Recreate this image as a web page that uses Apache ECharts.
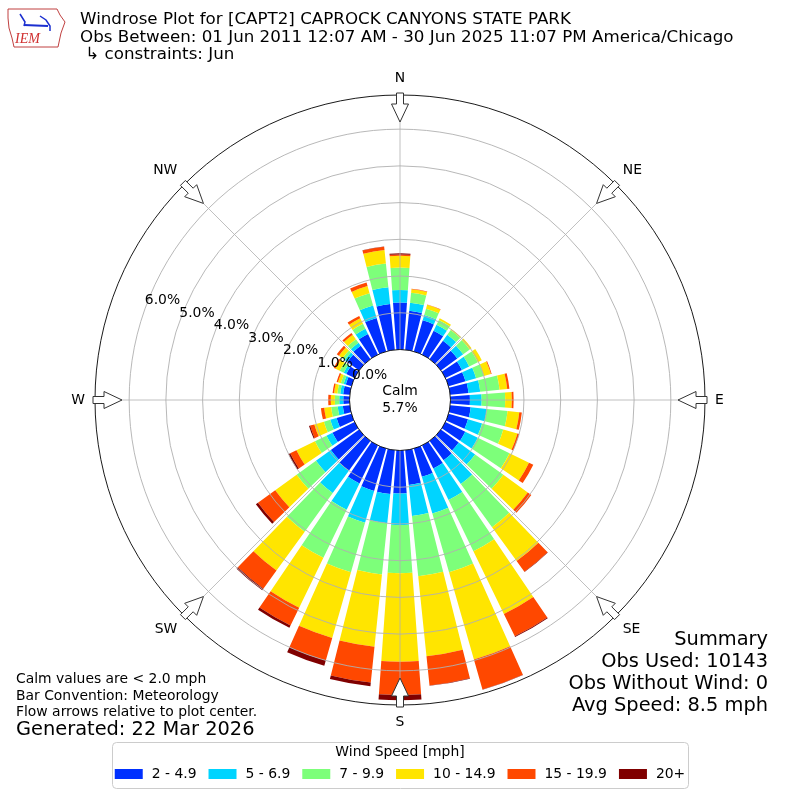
<!DOCTYPE html>
<html><head><meta charset="utf-8">
<script src="https://cdn.jsdelivr.net/npm/echarts@6/dist/echarts.min.js"></script>
<style>html,body{margin:0;padding:0;background:#fff}#c{width:800px;height:800px}</style>
</head><body><div id="c"></div>
<script>
// ---- data (percent of observations), 36 directions clockwise from North ----
const directions = ['0','10','20','30','40','50','60','70','80','90','100','110','120','130','140','150','160','170',
  '180','190','200','210','220','230','240','250','260','270','280','290','300','310','320','330','340','350'];
const speedBins = ['2 - 4.9', '5 - 6.9', '7 - 9.9', '10 - 14.9', '15 - 19.9', '20+'];
const speedColors = ['#0030ff', '#00d4ff', '#7dff7a', '#ffe500', '#ff4800', '#800000'];
const bin2to5 = [1.28,1.07,0.88,0.72,0.62,0.55,0.50,0.48,0.50,0.53,0.56,0.55,0.60,0.60,0.65,0.70,0.80,0.95,
  1.17,1.20,1.20,1.15,1.00,0.95,0.67,0.42,0.19,0.17,0.18,0.16,0.25,0.40,0.45,0.62,0.95,1.25];
const bin5to7 = [0.34,0.22,0.15,0.18,0.20,0.20,0.22,0.30,0.32,0.32,0.44,0.40,0.38,0.55,0.80,0.95,1.04,0.85,
  0.86,0.80,0.90,0.80,0.75,0.50,0.18,0.18,0.14,0.11,0.08,0.06,0.08,0.08,0.10,0.16,0.35,0.46];
const bin7to10 = [0.61,0.27,0.18,0.15,0.16,0.22,0.26,0.22,0.53,0.64,0.57,0.60,0.96,0.95,1.45,1.55,1.66,1.65,
  1.31,1.40,1.40,1.45,1.30,0.65,0.35,0.18,0.18,0.12,0.08,0.08,0.12,0.08,0.12,0.15,0.35,0.65];
const bin10to15 = [0.32,0.10,0.11,0.05,0.03,0.06,0.12,0.20,0.21,0.18,0.32,0.40,0.59,0.82,1.14,1.90,2.47,2.19,
  2.41,1.98,1.86,1.51,1.31,0.72,0.56,0.27,0.19,0.11,0.09,0.08,0.13,0.12,0.15,0.17,0.20,0.37];
const bin15to20 = [0.04,0.01,0.01,0,0,0,0,0.02,0.06,0.05,0.07,0.05,0.13,0.12,0.36,0.68,0.85,0.80,
  0.91,0.98,0.64,0.54,0.61,0.58,0.19,0.12,0.09,0.07,0.04,0.04,0.05,0.07,0.06,0.07,0.10,0.09];
const bin20plus = [0.03,0,0,0,0,0,0,0,0,0,0,0,0,0,0.01,0.02,0.01,0.01,
  0.14,0.10,0.15,0.07,0.05,0.07,0.05,0.03,0,0,0,0,0,0,0,0,0,0.01];
const compassLabels = ['N','NE','E','SE','S','SW','W','NW'];
const radialMax = 6.93;
const calmPct = '5.7%';

// ---- layout ----
const CX = 400, CY = 400, R0 = 50.5, R1 = 305;
const UNIT = (R1 - R0) / radialMax;
const FONT = 'DejaVu Sans';
const F10 = 13.9, F12 = 16.7, F14 = 19.4;
const chart = echarts.init(document.getElementById('c'), null, {renderer: 'canvas'});

const binsData = [bin2to5, bin5to7, bin7to10, bin10to15, bin15to20, bin20plus];
const series = binsData.map((d, i) => ({
  type: 'bar', name: speedBins[i], data: d, coordinateSystem: 'polar', polarIndex: 1,
  stack: 'wind', barCategoryGap: '18%', itemStyle: {color: speedColors[i]}, z: 2,
  emphasis: {disabled: true}
}));

// flow arrows on outer ring
const arrows = [];
for (let k = 0; k < 8; k++) {
  const c = k * 45 * Math.PI / 180;
  const u = [Math.sin(c), -Math.cos(c)], v = [Math.cos(c), Math.sin(c)];
  const loc = [[307,-3.5],[296,-3.5],[296,-8.5],[278,0],[296,8.5],[296,3.5],[307,3.5]];
  const pts = loc.map(([a,p]) => [CX + a*u[0] + p*v[0], CY + a*u[1] + p*v[1]]);
  arrows.push({type:'polygon', shape:{points: pts}, style:{fill:'#fff', stroke:'#333', lineWidth:1}, z: 50});
}

const txt = (x, y, t, size, align) => ({type:'text', x, y,
  style:{text:t, fill:'#000', font: size + 'px "' + FONT + '"', textAlign: align || 'left', textVerticalAlign:'middle'}, z: 60});

const graphic = [
  // IEM logo (simplified)
  {type:'polygon', shape:{points:[[8,9],[57,9],[60,15],[65,22],[61,33],[58,47],[14,47],[12,38],[9,28],[8,18]]},
   style:{fill:'#fff', stroke:'#c04040', lineWidth:1}, z:60},
  {type:'polyline', shape:{points:[[24,25],[48,26]]}, style:{stroke:'#1b2fd0', lineWidth:2}, z:61},
  {type:'polyline', shape:{points:[[20,14],[25,22],[24,26]]}, style:{stroke:'#1b2fd0', lineWidth:1.5}, z:61},
  {type:'polyline', shape:{points:[[40,16],[46,20],[50,26],[50,31]]}, style:{stroke:'#1b2fd0', lineWidth:1.5}, z:61},
  {type:'text', x:15, y:39, style:{text:'IEM', fill:'#d03030', font:'italic 14px "Liberation Serif"', textVerticalAlign:'middle'}, z:61},
  // titles
  txt(80, 20, 'Windrose Plot for [CAPT2] CAPROCK CANYONS STATE PARK', F12),
  txt(80, 38, 'Obs Between: 01 Jun 2011 12:07 AM - 30 Jun 2025 11:07 PM America/Chicago', F12),
  txt(80, 55, ' \u21b3 constraints: Jun', F12),
  // calm
  txt(CX, 391, 'Calm', F10, 'center'),
  txt(CX, 408, calmPct, F10, 'center'),
  // notes
  txt(16, 679, 'Calm values are < 2.0 mph', F10),
  txt(16, 696, 'Bar Convention: Meteorology', F10),
  txt(16, 712, 'Flow arrows relative to plot center.', F10),
  txt(16, 730, 'Generated: 22 Mar 2026', F14),
  // summary
  txt(768, 640, 'Summary', F14, 'right'),
  txt(768, 662, 'Obs Used: 10143', F14, 'right'),
  txt(768, 684, 'Obs Without Wind: 0', F14, 'right'),
  txt(768, 706, 'Avg Speed: 8.5 mph', F14, 'right'),
  // legend frame
  {type:'rect', shape:{x:112.5, y:742.5, width:576, height:46, r:4}, style:{fill:'transparent', stroke:'#cccccc', lineWidth:1}, z:1},
  txt(CX, 752, 'Wind Speed [mph]', F10, 'center'),
].concat(arrows);

const hiddenAxis = {axisLine: {show: false}, axisTick: {show: false}, axisLabel: {show: false}, splitLine: {show: false}};

const option = {
  animation: false,
  backgroundColor: '#fff',
  textStyle: {fontFamily: FONT},
  polar: [
    {center: [CX, CY], radius: [R0, R1]},          // grid
    {center: [CX, CY], radius: [R0, R1]},          // bars
    {center: [CX, CY], radius: [R0 - UNIT, R1]}    // radial tick labels (scale starts one unit earlier)
  ],
  angleAxis: [
    { // spokes every 45 degrees and compass labels
      polarIndex: 0, type: 'value', min: 0, max: 360, interval: 45, startAngle: 90, clockwise: true, z: 10,
      axisLine: {show: false}, axisTick: {show: false},
      splitLine: {show: true, lineStyle: {color: '#b0b0b0', width: 0.8}},
      axisLabel: {show: true, margin: 10, color: '#000', fontSize: F10, fontFamily: FONT, showMaxLabel: false,
        formatter: v => compassLabels[Math.round(v / 45) % 8]}
    },
    Object.assign({ // bars (10 degree sectors centred on each direction)
      polarIndex: 1, type: 'category', data: directions, startAngle: 95, clockwise: true, boundaryGap: true
    }, hiddenAxis),
    Object.assign({ // places the radial labels at 20 degrees above West
      polarIndex: 2, type: 'value', min: 0, max: 360, startAngle: 160, clockwise: true
    }, hiddenAxis)
  ],
  radiusAxis: [
    {
      polarIndex: 0, type: 'value', min: 0, max: radialMax, interval: 1, z: 10,
      axisLine: {show: false}, axisTick: {show: false}, axisLabel: {show: false},
      splitLine: {show: true, lineStyle: {color: ['#000','#b0b0b0','#b0b0b0','#b0b0b0','#b0b0b0','#b0b0b0','#b0b0b0','#000'], width: 0.9}}
    },
    Object.assign({polarIndex: 1, type: 'value', min: 0, max: radialMax}, hiddenAxis),
    {
      polarIndex: 2, type: 'value', min: -1, max: radialMax, interval: 1, z: 11,
      axisLine: {show: false}, axisTick: {show: false}, splitLine: {show: false},
      axisLabel: {show: true, margin: 0, color: '#000', fontSize: F10, fontFamily: FONT,
        showMinLabel: false, showMaxLabel: false, hideOverlap: false,
        align: 'center', verticalAlign: 'bottom', padding: [0, 0, 0, 34],
        formatter: v => (v >= 0 && Math.abs(v - Math.round(v)) < 1e-6 ? v.toFixed(1) + '%' : '')}
    }
  ],
  legend: {
    data: speedBins, left: 'center', top: 767, orient: 'horizontal', icon: 'rect',
    itemWidth: 28, itemHeight: 10, itemGap: 12, padding: 0,
    textStyle: {fontSize: F10, color: '#000', fontFamily: FONT, padding: [0, 0, 0, 4]}
  },
  series: series,
  graphic: graphic
};
chart.setOption(option);
</script>
</body></html>
